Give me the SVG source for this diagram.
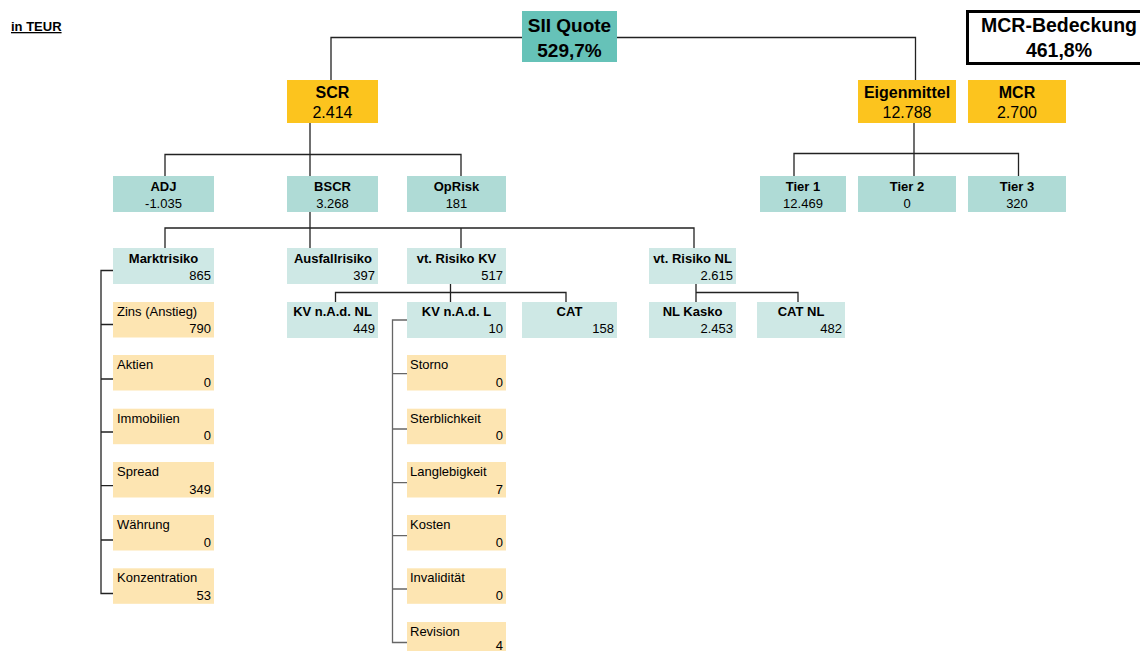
<svg xmlns="http://www.w3.org/2000/svg" width="1140" height="651" viewBox="0 0 1140 651">
<style>
text{font-family:"Liberation Sans",Arial,sans-serif;fill:#000}
.gold{fill:#FCC41E}
.top{fill:#66C2B8}
.l2{fill:#AFDBD6}
.l3{fill:#CEE8E5}
.leaf{fill:#FDE5B2}
.b16{font-size:16px;font-weight:bold;text-anchor:middle}
.r16{font-size:16px;text-anchor:middle}
.b13{font-size:13px;font-weight:bold;text-anchor:middle}
.r13{font-size:13px;text-anchor:middle}
.v13{font-size:13px;text-anchor:end}
.lab{font-size:13px}
.con{fill:none;stroke:#222;stroke-width:1.3}
</style>
<text x="11" y="31" style="font-size:13px;font-weight:bold;text-decoration:underline">in TEUR</text>
<g id="connectors" class="con">
<path d="M522,37.5H331V80M617,37.5H915.5V80"/>
<path d="M310,123V176M165,176V154.5H461V176"/>
<path d="M310,212V248M165,248V228H694V248M461,228V248"/>
<path d="M914,123V176M794,176V153.5H1018.5V176"/>
<path d="M450.5,284V302M335.5,302V292.5H566V302"/>
<path d="M696,284V302M696,292.5H798V302"/>
<path d="M113,270.5H101V593.5H113M101,324.5H113M101,379H113M101,432H113M101,485.7H113M101,540H113"/>
<path d="M407,320H392.5V642.5H407M392.5,373.7H407M392.5,429H407M392.5,482.7H407M392.5,535.7H407M392.5,589H407" style="stroke:#666"/>
</g>
<g id="sii"><rect class="top" x="522" y="11" width="95" height="51"/><text x="569.5" y="31.7" style="font-size:19px;font-weight:bold;text-anchor:middle">SII Quote</text><text x="569.5" y="57.3" style="font-size:19px;font-weight:bold;text-anchor:middle">529,7%</text></g>
<g id="mcrbed"><rect x="967.5" y="11.5" width="190" height="52" fill="#fff" stroke="#000" stroke-width="3"/><text x="1059" y="32.3" style="font-size:19.5px;font-weight:bold;text-anchor:middle">MCR-Bedeckung</text><text x="1059" y="57.3" style="font-size:19.5px;font-weight:bold;text-anchor:middle">461,8%</text></g>
<g id="scr"><rect class="gold" x="287" y="80" width="91" height="43"/><text class="b16" x="332.5" y="98.3">SCR</text><text class="r16" x="332.5" y="118.3">2.414</text></g>
<g id="eigenmittel"><rect class="gold" x="858" y="80" width="98" height="43"/><text class="b16" x="907" y="98.3">Eigenmittel</text><text class="r16" x="907" y="118.3">12.788</text></g>
<g id="mcr"><rect class="gold" x="968" y="80" width="98" height="43"/><text class="b16" x="1017" y="98.3">MCR</text><text class="r16" x="1017" y="118.3">2.700</text></g>
<g id="adj"><rect class="l2" x="113" y="176" width="101" height="36"/><text class="b13" x="163.5" y="190.7">ADJ</text><text class="r13" x="163.5" y="208.3">-1.035</text></g>
<g id="bscr"><rect class="l2" x="287" y="176" width="91" height="36"/><text class="b13" x="332.5" y="190.7">BSCR</text><text class="r13" x="332.5" y="208.3">3.268</text></g>
<g id="oprisk"><rect class="l2" x="407" y="176" width="99" height="36"/><text class="b13" x="456.5" y="190.7">OpRisk</text><text class="r13" x="456.5" y="208.3">181</text></g>
<g id="tier1"><rect class="l2" x="760" y="176" width="86" height="36"/><text class="b13" x="803" y="190.7">Tier 1</text><text class="r13" x="803" y="208.3">12.469</text></g>
<g id="tier2"><rect class="l2" x="858" y="176" width="98" height="36"/><text class="b13" x="907" y="190.7">Tier 2</text><text class="r13" x="907" y="208.3">0</text></g>
<g id="tier3"><rect class="l2" x="968" y="176" width="98" height="36"/><text class="b13" x="1017" y="190.7">Tier 3</text><text class="r13" x="1017" y="208.3">320</text></g>
<g id="markt"><rect class="l3" x="113" y="248" width="101" height="36"/><text class="b13" x="163.5" y="262.7">Marktrisiko</text><text class="v13" x="211" y="280">865</text></g>
<g id="ausfall"><rect class="l3" x="287" y="248" width="91" height="36"/><text class="b13" x="333" y="262.7">Ausfallrisiko</text><text class="v13" x="375" y="280">397</text></g>
<g id="vtkv"><rect class="l3" x="407" y="248" width="99" height="36"/><text class="b13" x="456.5" y="262.7">vt. Risiko KV</text><text class="v13" x="503" y="280">517</text></g>
<g id="vtnl"><rect class="l3" x="649" y="248" width="87" height="36"/><text class="b13" x="692.5" y="262.7">vt. Risiko NL</text><text class="v13" x="733" y="280">2.615</text></g>
<g id="kvnl"><rect class="l3" x="287" y="302" width="91" height="36"/><text class="b13" x="332.5" y="315.7">KV n.A.d. NL</text><text class="v13" x="375" y="333.3">449</text></g>
<g id="kvl"><rect class="l3" x="407" y="302" width="99" height="36"/><text class="b13" x="456.5" y="315.7">KV n.A.d. L</text><text class="v13" x="503" y="333.3">10</text></g>
<g id="cat"><rect class="l3" x="522" y="302" width="95" height="36"/><text class="b13" x="569.5" y="315.7">CAT</text><text class="v13" x="614" y="333.3">158</text></g>
<g id="nlkasko"><rect class="l3" x="649" y="302" width="87" height="36"/><text class="b13" x="692.5" y="315.7">NL Kasko</text><text class="v13" x="733" y="333.3">2.453</text></g>
<g id="catnl"><rect class="l3" x="757" y="302" width="88" height="36"/><text class="b13" x="801" y="315.7">CAT NL</text><text class="v13" x="842" y="333.3">482</text></g>
<g id="zins"><rect class="leaf" x="113" y="302" width="101" height="35.5"/><text class="lab" x="117" y="315.7">Zins (Anstieg)</text><text class="v13" x="211" y="333.3">790</text></g>
<g id="aktien"><rect class="leaf" x="113" y="355" width="101" height="35.5"/><text class="lab" x="117" y="369">Aktien</text><text class="v13" x="211" y="386.5">0</text></g>
<g id="immo"><rect class="leaf" x="113" y="408.7" width="101" height="35.5"/><text class="lab" x="117" y="422.5">Immobilien</text><text class="v13" x="211" y="440">0</text></g>
<g id="spread"><rect class="leaf" x="113" y="462" width="101" height="35.5"/><text class="lab" x="117" y="476">Spread</text><text class="v13" x="211" y="493.5">349</text></g>
<g id="waehrung"><rect class="leaf" x="113" y="515" width="101" height="35.5"/><text class="lab" x="117" y="529">Währung</text><text class="v13" x="211" y="546.5">0</text></g>
<g id="konz"><rect class="leaf" x="113" y="568.3" width="101" height="35.5"/><text class="lab" x="117" y="582">Konzentration</text><text class="v13" x="211" y="599.7">53</text></g>
<g id="storno"><rect class="leaf" x="407" y="355" width="99" height="35.5"/><text class="lab" x="410" y="369">Storno</text><text class="v13" x="503" y="386.5">0</text></g>
<g id="sterb"><rect class="leaf" x="407" y="408.7" width="99" height="35.5"/><text class="lab" x="410" y="422.5">Sterblichkeit</text><text class="v13" x="503" y="440">0</text></g>
<g id="lang"><rect class="leaf" x="407" y="462" width="99" height="35.5"/><text class="lab" x="410" y="476">Langlebigkeit</text><text class="v13" x="503" y="493.5">7</text></g>
<g id="kosten"><rect class="leaf" x="407" y="515" width="99" height="35.5"/><text class="lab" x="410" y="529">Kosten</text><text class="v13" x="503" y="546.5">0</text></g>
<g id="inval"><rect class="leaf" x="407" y="568.3" width="99" height="35.5"/><text class="lab" x="410" y="582">Invalidität</text><text class="v13" x="503" y="599.7">0</text></g>
<g id="revision"><rect class="leaf" x="407" y="622" width="99" height="35.5"/><text class="lab" x="410" y="636">Revision</text><text class="v13" x="503" y="650">4</text></g>
</svg>
